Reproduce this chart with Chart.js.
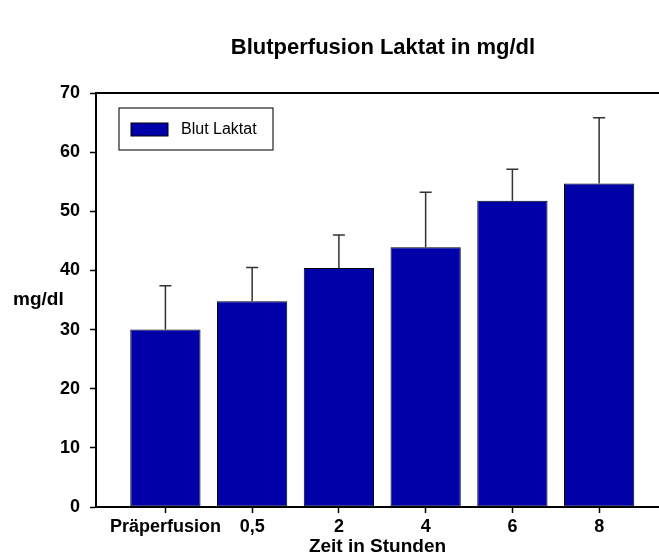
<!DOCTYPE html>
<html>
<head>
<meta charset="utf-8">
<script src="https://cdn.jsdelivr.net/npm/chart.js@4.4.1/dist/chart.umd.min.js"></script>
<style>
  html, body { margin: 0; padding: 0; background: #fff; }
  #wrap { width: 659px; height: 559px; }
</style>
</head>
<body>
<div id="wrap"><canvas id="chart"></canvas></div>
<script>
// Zeitpunkte und Laktat-Mittelwerte (mg/dl) mit Standardabweichung
const zeitpunkte = ["Präperfusion", "0,5", "2", "4", "6", "8"]
const laktat = [30.0, 34.8, 40.4, 43.9, 51.8, 54.7]
const laktatSD = [7.4, 5.7, 5.6, 9.3, 5.3, 11.1]
const yTicks = [0, 10, 20, 30, 40, 50, 60, 70]

const FONT = '"Liberation Sans", Arial, Helvetica, sans-serif'
const BAR_COLOR = "#0000a8"

// Fehlerbalken nur nach oben
const errorBars = {
  id: "errorBars",
  afterDatasetsDraw(chart) {
    const { ctx, scales } = chart
    const meta = chart.getDatasetMeta(0)
    ctx.save()
    ctx.strokeStyle = "#333"
    ctx.lineWidth = 1.5
    meta.data.forEach((bar, i) => {
      const yTop = scales.y.getPixelForValue(laktat[i] + laktatSD[i])
      ctx.beginPath()
      ctx.moveTo(bar.x, bar.y)
      ctx.lineTo(bar.x, yTop)
      ctx.moveTo(bar.x - 6, yTop)
      ctx.lineTo(bar.x + 6, yTop)
      ctx.stroke()
    })
    ctx.restore()
  },
}

// Rahmen oben, Titel, y-Achsenbeschriftung und Legende
const decorations = {
  id: "decorations",
  afterDraw(chart) {
    const { ctx, chartArea } = chart
    ctx.save()

    ctx.strokeStyle = "#000"
    ctx.lineWidth = 2
    ctx.beginPath()
    ctx.moveTo(chartArea.left - 1, chartArea.top)
    ctx.lineTo(chartArea.right, chartArea.top)
    ctx.stroke()

    ctx.fillStyle = "#000"
    ctx.textBaseline = "middle"
    ctx.textAlign = "center"
    ctx.font = "bold 22px " + FONT
    ctx.fillText("Blutperfusion Laktat in mg/dl", 383, 48)

    ctx.textAlign = "left"
    ctx.font = "bold 19px " + FONT
    ctx.fillText("mg/dl", 13, 300)

    // Legende
    const lx = chartArea.left + 23
    const ly = chartArea.top + 15
    ctx.fillStyle = "#fff"
    ctx.fillRect(lx, ly, 154, 42)
    ctx.lineWidth = 1.2
    ctx.strokeStyle = "#222"
    ctx.strokeRect(lx, ly, 154, 42)
    ctx.fillStyle = BAR_COLOR
    ctx.fillRect(lx + 12, ly + 15, 37, 13)
    ctx.lineWidth = 1
    ctx.strokeStyle = "#000"
    ctx.strokeRect(lx + 12, ly + 15, 37, 13)
    ctx.fillStyle = "#000"
    ctx.font = "16px " + FONT
    ctx.fillText(chart.data.datasets[0].label, lx + 62, ly + 22)

    ctx.restore()
  },
}

new Chart(document.getElementById("chart"), {
  type: "bar",
  data: {
    datasets: [
      {
        label: "Blut Laktat",
        data: laktat.map((v, i) => ({ x: i, y: v })),
        backgroundColor: BAR_COLOR,
        borderColor: "#000",
        borderWidth: 1,
        borderSkipped: false,
        barPercentage: 0.81,
        categoryPercentage: 1,
      },
    ],
  },
  options: {
    responsive: true,
    maintainAspectRatio: false,
    animation: false,
    layout: { padding: { top: 93, left: 0, right: 0, bottom: 0 } },
    plugins: {
      legend: { display: false },
      title: { display: false },
      tooltip: { enabled: false },
    },
    scales: {
      x: {
        type: "linear",
        offset: false,
        min: -0.8,
        max: 5.69,
        afterBuildTicks: (scale) => {
          scale.ticks = zeitpunkte.map((_, i) => ({ value: i }))
        },
        afterFit: (scale) => {
          scale.height = 52
        },
        ticks: {
          color: "#000",
          padding: 3,
          maxRotation: 0,
          autoSkip: false,
          font: { family: FONT, size: 18, weight: "bold" },
          callback: (value) => zeitpunkte[value] ?? "",
        },
        grid: {
          offset: false,
          drawOnChartArea: false,
          drawTicks: true,
          tickLength: 6,
          tickWidth: 1.5,
          tickColor: "#000",
        },
        border: { color: "#000", width: 2 },
        title: {
          display: true,
          text: "Zeit in Stunden",
          color: "#000",
          font: { family: FONT, size: 19, weight: "bold" },
          padding: { top: 0, bottom: 1 },
        },
      },
      y: {
        min: 0,
        max: 70,
        afterBuildTicks: (scale) => {
          scale.ticks = yTicks.map((v) => ({ value: v }))
        },
        afterFit: (scale) => {
          scale.width = 96
        },
        ticks: {
          color: "#000",
          padding: 10,
          font: { family: FONT, size: 18, weight: "bold" },
        },
        grid: {
          drawOnChartArea: false,
          drawTicks: true,
          tickLength: 6,
          tickWidth: 1.5,
          tickColor: "#000",
        },
        border: { color: "#000", width: 2 },
      },
    },
  },
  plugins: [errorBars, decorations],
})
</script>
</body>
</html>
